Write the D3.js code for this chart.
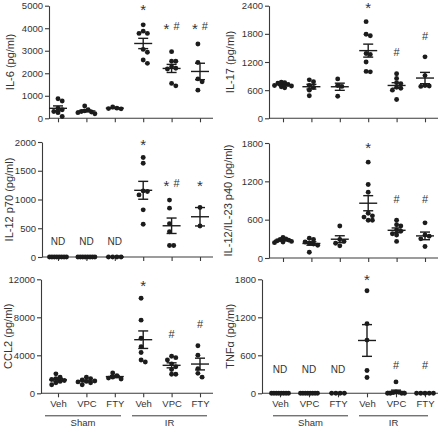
<!DOCTYPE html>
<html><head><meta charset="utf-8">
<script src="https://cdn.jsdelivr.net/npm/d3@7"></script>
<style>
html,body{margin:0;padding:0;background:#fff;}
svg{display:block;font-family:"Liberation Sans",Arial,sans-serif;}
</style></head>
<body><svg id="c" width="440" height="429"></svg>
<script>
// ---------- data ----------
const groupLabels = ["Veh","VPC","FTY","Veh","VPC","FTY"];
const conditionLabels = ["Sham","IR"];

const il6 = [
  [870, 770, 450, 380, 300, 250, 80],
  [550, 380, 330, 300, 280, 250, 200],
  [420, 450, 430, 500],
  [4150, 3870, 3770, 3770, 3060, 2930, 2590, 2440],
  [2960, 2530, 2530, 2290, 2220, 2190, 1550, 1440],
  [3300, 2480, 1750, 1620, 1250]
];
const il17 = [
  [770, 760, 750, 720, 700, 690, 670, 650],
  [820, 780, 700, 660, 600, 480],
  [840, 700, 680, 470],
  [2060, 1790, 1760, 1380, 1360, 1200, 1000, 990],
  [950, 850, 760, 740, 660, 640, 600, 400],
  [1310, 910, 700, 680, 690]
];
const il12p70 = [
  [0, 0, 0, 0, 0, 0, 0, 0],
  [0, 0, 0, 0, 0, 0, 0, 0],
  [0, 0, 0, 0],
  [1730, 1630, 1150, 1140, 1080, 820, 570],
  [990, 850, 580, 440, 200, 200],
  [860, 540]
];
const il12p40 = [
  [320, 300, 290, 280, 270, 260, 250, 240],
  [310, 290, 250, 230, 220, 200, 90],
  [500, 290, 260, 230, 190],
  [1500, 1150, 1030, 700, 660, 640, 590, 590],
  [590, 520, 500, 440, 420, 380, 360, 260],
  [550, 360, 340, 300, 180]
];
const ccl2 = [
  [2050, 1700, 1550, 1450, 1350, 1250, 1100, 900],
  [1700, 1550, 1400, 1300, 1250, 1200, 1100, 900],
  [2150, 1850, 1700, 1600, 1500],
  [10000, 7700, 5800, 4900, 4300, 3500, 3300],
  [3900, 3750, 3500, 3100, 2800, 2500, 2000, 2000],
  [5000, 4000, 2600, 2100, 1700]
];
const tnfa = [
  [0, 0, 0, 0, 0, 0, 0, 0],
  [0, 0, 0, 0, 0, 0, 0, 0],
  [0, 0, 0, 0],
  [1620, 1100, 840, 360, 250],
  [180, 20, 15, 10, 0, 0, 0, 0],
  [0, 0, 0, 0, 0]
];

const il6Ticks = [0, 1000, 2000, 3000, 4000, 5000];
const il17Ticks = [0, 600, 1200, 1800, 2400];
const il12p70Ticks = [0, 500, 1000, 1500, 2000];
const il12p40Ticks = [0, 600, 1200, 1800];
const ccl2Ticks = [0, 4000, 8000, 12000];
const tnfaTicks = [0, 600, 1200, 1800];

const il6Marks = ["", "", "", "*", "* #", "* #"];
const il17Marks = ["", "", "", "*", "#", "#"];
const il12p70Marks = ["ND", "ND", "ND", "*", "* #", "*"];
const il12p40Marks = ["", "", "", "*", "#", "#"];
const ccl2Marks = ["", "", "", "*", "#", "#"];
const tnfaMarks = ["ND", "ND", "ND", "*", "#", "#"];

// ---------- layout ----------
const panels = [
  {title:"IL-6 (pg/ml)", data:il6, ticks:il6Ticks, marks:il6Marks, markAt:[0,0,0,4940,4100,4100],
   ax:49, xEnd:213, x0:58, x5:200, yTop:5.7, yBot:118.3, titleX:10, bottom:false},
  {title:"IL-17 (pg/ml)", data:il17, ticks:il17Ticks, marks:il17Marks, markAt:[0,0,0,2415,1413,1754],
   ax:269, xEnd:438, x0:283, x5:425, yTop:5.7, yBot:118.3, titleX:230, bottom:false},
  {title:"IL-12 p70 (pg/ml)", data:il12p70, ticks:il12p70Ticks, marks:il12p70Marks, markAt:[278,278,278,2000,1287,1287],
   ax:42, xEnd:213, x0:58, x5:200, yTop:142, yBot:257, titleX:9, bottom:false},
  {title:"IL-12/IL-23 p40 (pg/ml)", data:il12p40, ticks:il12p40Ticks, marks:il12p40Marks, markAt:[0,0,0,1768,923,923],
   ax:269, xEnd:438, x0:283, x5:425, yTop:143, yBot:258, titleX:228, bottom:false},
  {title:"CCL2 (pg/ml)", data:ccl2, ticks:ccl2Ticks, marks:ccl2Marks, markAt:[0,0,0,11610,6240,7290],
   ax:41, xEnd:213, x0:58, x5:200, yTop:279.3, yBot:393.3, titleX:8, bottom:true,
   condLines:[[45,121],[132,207]]},
  {title:"TNFα (pg/ml)", data:tnfa, ticks:tnfaTicks, marks:tnfaMarks, markAt:[379,379,379,1832,442,442],
   ax:262, xEnd:438, x0:280, x5:425, yTop:279.3, yBot:393.3, titleX:230, bottom:true,
   condLines:[[273,348],[359,428]]}
];

const ink = "#1c1c1c", axisCol = "#3a3a3a", textCol = "#333";
const R = 2.45, SEP = 4.2, MAXOFF = 8.5;
const FF = "Liberation Sans, Arial, sans-serif";

function swarm(vals, y){
  const order = d3.range(vals.length).sort((a,b)=>d3.descending(vals[a], vals[b]));
  const placed = [], off = new Array(vals.length);
  for (const i of order){
    const py = y(vals[i]);
    for (let k = 0; ; k++){
      const c = k === 0 ? 0 : (k % 2 ? 1 : -1) * Math.ceil(k/2) * SEP;
      if (placed.every(p => (p.x-c)**2 + (p.y-py)**2 >= SEP*SEP - 0.01)){
        off[i] = c; placed.push({x:c, y:py}); break;
      }
    }
  }
  const mid = (d3.max(off) + d3.min(off)) / 2;
  const cen = off.map(o => o - mid);
  const m = d3.max(cen, Math.abs) || 1;
  const s = m > MAXOFF ? MAXOFF/m : 1;
  return cen.map(o => o*s);
}

const svg = d3.select("#c");

panels.forEach(p => {
  const g = svg.append("g");
  const x = d3.scalePoint().domain(d3.range(6)).range([p.x0, p.x5]);
  const y = d3.scaleLinear().domain([0, d3.max(p.ticks)]).range([p.yBot, p.yTop]);

  // y axis
  const ya = g.append("g").attr("transform", `translate(${p.ax},0)`)
    .call(d3.axisLeft(y).tickValues(p.ticks).tickFormat(d3.format("d"))
      .tickSize(4).tickSizeOuter(0).tickPadding(2));
  ya.select(".domain").attr("stroke", axisCol).attr("stroke-width", 1.1);
  ya.selectAll(".tick line").attr("stroke", axisCol).attr("stroke-width", 1.1);
  ya.selectAll(".tick text").attr("fill", textCol).attr("font-size", 9.5).attr("font-family", FF);

  // x axis
  const xa = g.append("g").attr("transform", `translate(0,${p.yBot})`)
    .call(d3.axisBottom(x).tickSize(4).tickSizeOuter(0)
      .tickFormat(i => p.bottom ? groupLabels[i] : "").tickPadding(3));
  xa.select(".domain").remove();
  xa.append("line").attr("x1", p.ax).attr("x2", p.xEnd).attr("y1", 0).attr("y2", 0)
    .attr("stroke", axisCol).attr("stroke-width", 1.1);
  xa.selectAll(".tick line").attr("stroke", axisCol).attr("stroke-width", 1.1);
  xa.selectAll(".tick text").attr("fill", textCol).attr("font-size", 9.5).attr("font-family", FF);

  // condition lines
  if (p.bottom){
    p.condLines.forEach((c, i) => {
      g.append("line").attr("x1", c[0]).attr("x2", c[1])
        .attr("y1", p.yBot + 22.5).attr("y2", p.yBot + 22.5)
        .attr("stroke", axisCol).attr("stroke-width", 1);
      g.append("text").attr("x", (c[0]+c[1])/2).attr("y", p.yBot + 33)
        .attr("text-anchor", "middle").attr("font-size", 9.5).attr("fill", textCol)
        .text(conditionLabels[i]);
    });
  }

  // title
  g.append("text")
    .attr("transform", `translate(${p.titleX},${(p.yTop+p.yBot)/2}) rotate(-90)`)
    .attr("text-anchor", "middle").attr("dominant-baseline", "central")
    .attr("font-size", 11).attr("fill", textCol).text(p.title);

  // groups
  p.data.forEach((vals, gi) => {
    const cx = x(gi);
    const offs = swarm(vals, y);
    g.append("g").selectAll("circle").data(vals).join("circle")
      .attr("cx", (d, i) => cx + offs[i]).attr("cy", d => y(d))
      .attr("r", R).attr("fill", ink);
    const mean = d3.mean(vals);
    const sem = vals.length > 1 ? d3.deviation(vals) / Math.sqrt(vals.length) : 0;
    const ln = (x1, y1, x2, y2) => g.append("line").attr("x1", x1).attr("y1", y1)
      .attr("x2", x2).attr("y2", y2).attr("stroke", ink).attr("stroke-width", 1.4);
    ln(cx - 9, y(mean), cx + 9, y(mean));
    if (sem > 0){
      ln(cx, y(mean - sem), cx, y(mean + sem));
      ln(cx - 5, y(mean + sem), cx + 5, y(mean + sem));
      ln(cx - 5, y(mean - sem), cx + 5, y(mean - sem));
    }
    // annotation
    const m = p.marks[gi];
    if (m){
      const yc = y(p.markAt[gi]);
      if (m === "ND"){
        g.append("text").attr("x", cx).attr("y", yc + 3.5).attr("text-anchor", "middle")
          .attr("font-size", 10).attr("fill", textCol).text("ND");
      } else {
        const t = g.append("text").attr("x", cx).attr("y", yc + 4)
          .attr("text-anchor", "middle").attr("fill", textCol);
        m.split(" ").forEach((s, k) => {
          const ts = t.append("tspan").text(s);
          if (s === "*") ts.attr("font-size", 15).attr("dy", k === 0 ? 4 : 0);
          else ts.attr("font-size", 11).attr("dx", k > 0 ? 4 : 0).attr("dy", k > 0 ? -4 : 0);
        });
      }
    }
  });
});
</script>
</body></html>
